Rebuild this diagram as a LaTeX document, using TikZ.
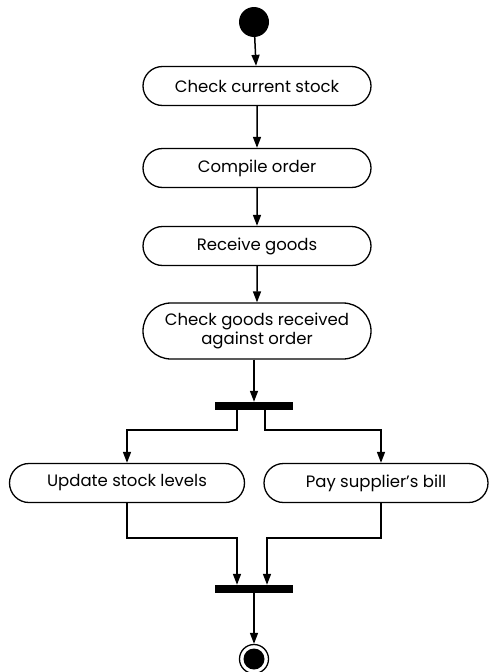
\documentclass[tikz,border=0pt]{standalone}
\usepackage{fontspec}
\setmainfont{Poppins}
\usetikzlibrary{shapes.misc,arrows.meta}
\begin{document}
\begin{tikzpicture}[x=1pt,y=-1pt,
  act/.style={draw,line width=1.3pt,rounded rectangle,rounded rectangle arc length=180,
    minimum height=39pt,minimum width=232pt,inner sep=2pt,
    font=\fontsize{16.5}{19}\selectfont,align=center},
  syncbar/.style={fill=black,draw=none,minimum width=78pt,minimum height=8pt,inner sep=0pt},
  flow/.style={line width=1.5pt,-{Triangle[length=11pt,width=8pt]}}]
\useasboundingbox (0,0) rectangle (491,672);
\node[circle,fill=black,minimum size=30pt,inner sep=0pt] (start) at (254,22) {};
\node[act] (a1) at (257,86) {Check current stock};
\node[act] (a2) at (257,168) {Compile order};
\node[act] (a3) at (257,246) {Receive goods};
\node[act,minimum height=56pt] (a4) at (257,331) {Check goods received\\against order};
\node[syncbar] (b1) at (254,406) {};
\node[act,minimum width=239pt] (a5) at (127,483) {Update stock levels};
\node[act,minimum width=228pt] (a6) at (376,483) {Pay supplier's bill};
\node[syncbar] (b2) at (254,589) {};
\node[circle,draw,line width=1.3pt,minimum size=29pt,inner sep=0pt] (end) at (254,659) {};
\node[circle,fill=black,minimum size=21pt,inner sep=0pt] at (end) {};
\coordinate (f1) at (237,430);
\coordinate (f2) at (265,430);
\coordinate (j1) at (127,538);
\coordinate (j2) at (381,538);
\draw[flow] (start) -- (a1);
\draw[flow] (a1) -- (a2);
\draw[flow] (a2) -- (a3);
\draw[flow] (a3) -- (a4);
\draw[flow] (a4.south -| b1) -- (b1);
\draw[flow] (b1.south -| f1) -- (f1) -| (a5.north);
\draw[flow] (b1.south -| f2) -- (f2) -| (a6.north -| j2);
\draw[flow] (a5.south) -- (j1) -| (b2.north -| f1);
\draw[flow] (a6.south -| j2) -- (j2) -| (b2.north -| 267,0);
\draw[flow] (b2) -- (end);
\end{tikzpicture}
\end{document}
